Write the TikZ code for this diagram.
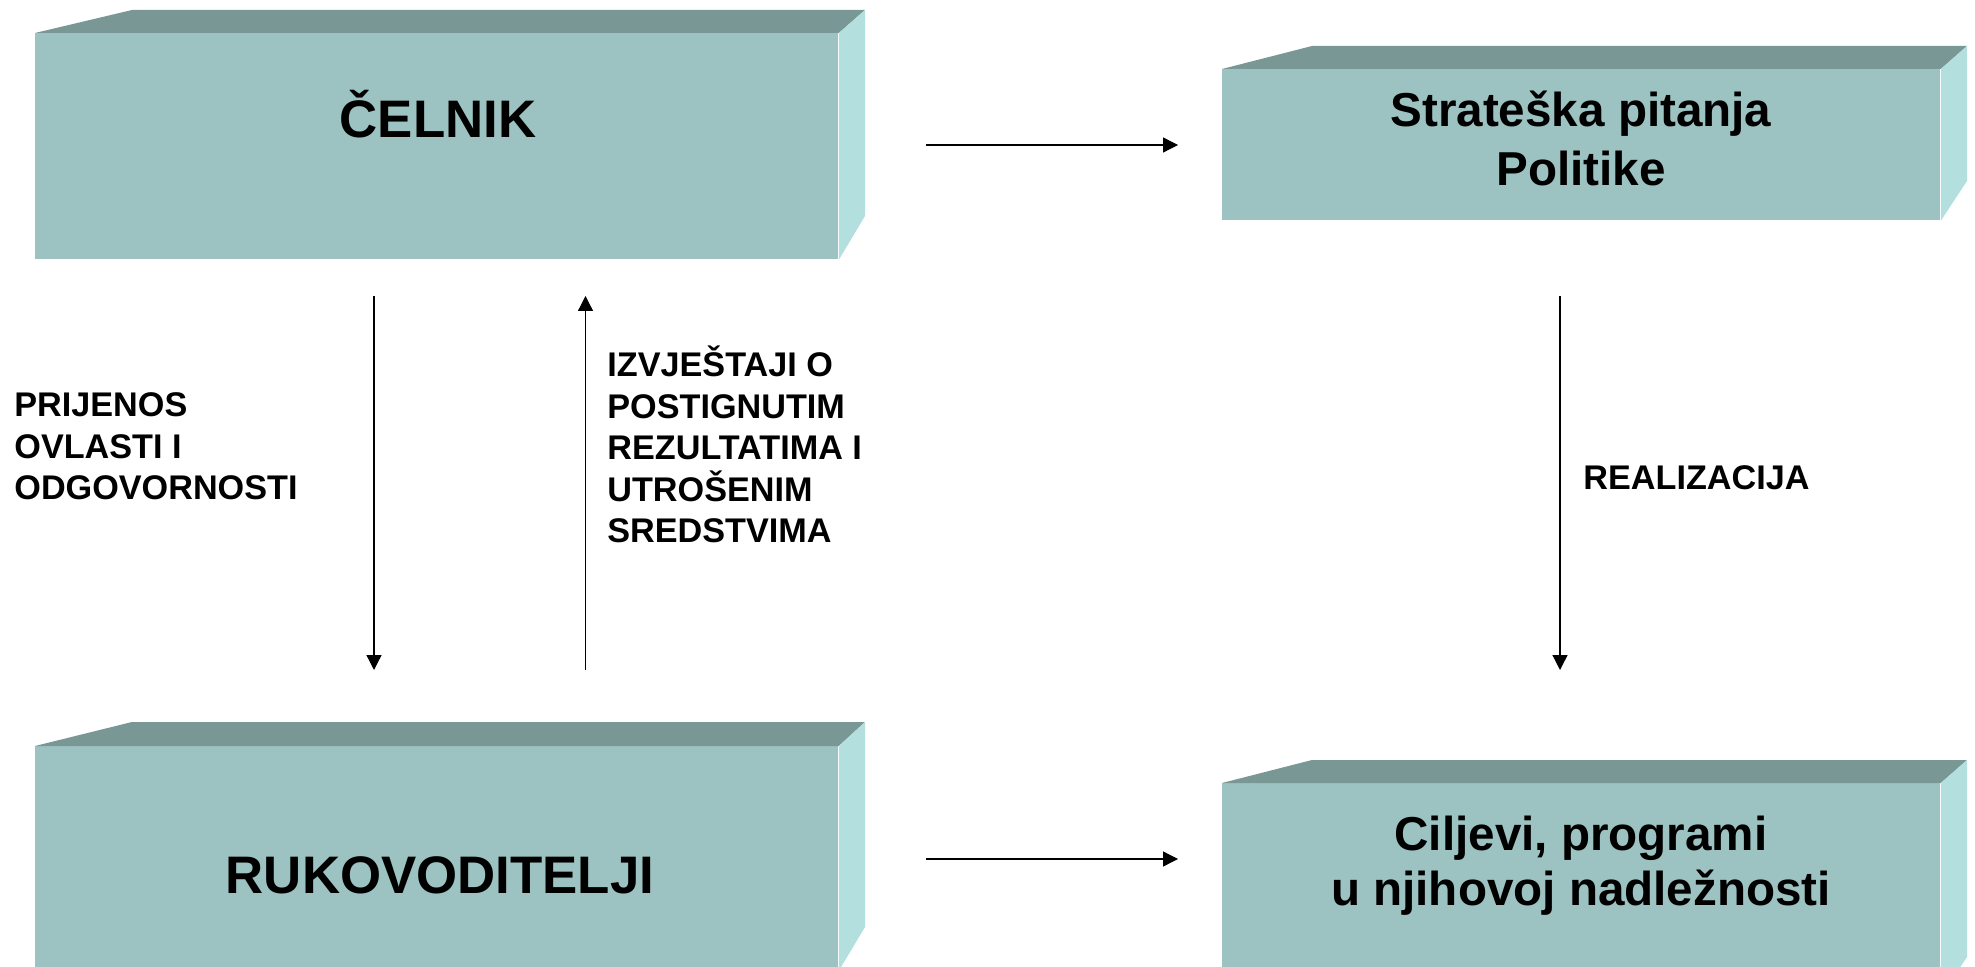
\documentclass[tikz,border=0pt]{standalone}
\usepackage{fontspec}
\setmainfont{Liberation Sans}
\usetikzlibrary{arrows.meta}
\definecolor{frontc}{HTML}{9CC2C1}
\definecolor{topc}{HTML}{799795}
\definecolor{sidec}{HTML}{B3DFDF}
\tikzset{
  frontbox/.style={fill=frontc, draw=none, inner sep=0pt, anchor=north west},
  bigtext/.style={font={\fontsize{26.4}{31}\selectfont\bfseries}, inner sep=0pt, anchor=base},
  midtext/.style={font={\fontsize{23.8}{28}\selectfont\bfseries}, inner sep=0pt, anchor=base, align=center},
  lbl/.style={font={\fontsize{17.1}{20.8}\selectfont\bfseries}, inner sep=0pt, anchor=base west, align=left},
  conn/.style={line width=0.65pt, -{Triangle[length=7.5pt,width=7.5pt]}}
}
\begin{document}
\begin{tikzpicture}[x=0.5pt,y=-0.5pt]
\useasboundingbox (0,0) rectangle (1975,967);
\clip (0,0) rectangle (1975,967);
% box 1: CELNIK
\node[frontbox, minimum width=401.5pt, minimum height=113pt] (celnik) at (35,33) {};
\fill[topc] (celnik.north west) -- (132,10) -- (865,10) -- (celnik.north east) -- cycle;
\fill[sidec] (celnik.north east) -- (865,10) -- (865,216) -- (celnik.south east) -- cycle;
\node[bigtext] (celnikT) at (438,138) {ČELNIK};
% box 2: Strateska
\node[frontbox, minimum width=359pt, minimum height=75.5pt] (strat) at (1222,69) {};
\fill[topc] (strat.north west) -- (1312,46) -- (1967,46) -- (strat.north east) -- cycle;
\fill[sidec] (strat.north east) -- (1967,46) -- (1967,181) -- (strat.south east) -- cycle;
\node[midtext] (stratT1) at (1581,127) {Strateška pitanja};
\node[midtext] (stratT2) at (1581,186) {Politike};
% box 3: RUKOVODITELJI
\node[frontbox, minimum width=401.5pt, minimum height=112pt] (ruk) at (35,746) {};
\fill[topc] (ruk.north west) -- (132,722) -- (865,722) -- (ruk.north east) -- cycle;
\fill[sidec] (ruk.north east) -- (865,722) -- (865,927) -- (ruk.south east) -- cycle;
\node[bigtext] (rukT) at (440,893) {RUKOVODITELJI};
% box 4: Ciljevi
\node[frontbox, minimum width=359pt, minimum height=106pt] (cilj) at (1222,783) {};
\fill[topc] (cilj.north west) -- (1312,760) -- (1967,760) -- (cilj.north east) -- cycle;
\fill[sidec] (cilj.north east) -- (1967,760) -- (1967,957) -- (cilj.south east) -- cycle;
\node[midtext] (ciljT1) at (1581,850) {Ciljevi, programi};
\node[midtext] (ciljT2) at (1581,905) {u njihovoj nadležnosti};
% connectors
\coordinate (h1s) at (926,145); \coordinate (h1e) at (1178,145);
\coordinate (h2s) at (926,859); \coordinate (h2e) at (1178,859);
\coordinate (v1s) at (374,296); \coordinate (v1e) at (374,670);
\coordinate (v2s) at (585.5,670); \coordinate (v2e) at (585.5,296);
\coordinate (v3s) at (1560,296); \coordinate (v3e) at (1560,670);
\draw[conn] (h1s) -- (h1e);
\draw[conn] (h2s) -- (h2e);
\draw[conn] (v1s) -- (v1e);
\draw[conn] (v2s) -- (v2e);
\draw[conn] (v3s) -- (v3e);
% labels (base anchor = baseline of last line)
\node[lbl] (lblA) at (14,500) {PRIJENOS\\OVLASTI I\\ODGOVORNOSTI};
\node[lbl] (lblB) at (607,543) {IZVJEŠTAJI O\\POSTIGNUTIM\\REZULTATIMA I\\UTROŠENIM\\SREDSTVIMA};
\node[lbl] (lblC) at (1583,490) {REALIZACIJA};
\end{tikzpicture}
\end{document}
